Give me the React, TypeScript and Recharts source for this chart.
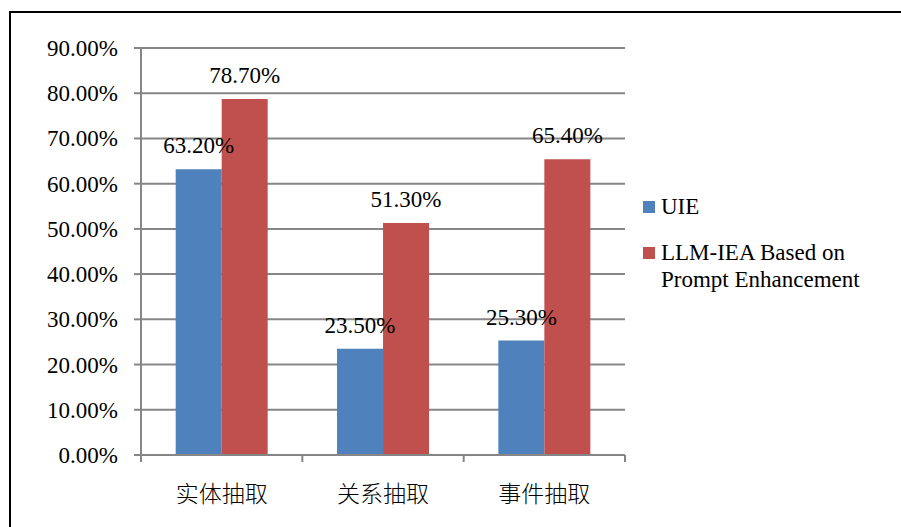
import React from "react";
import { BarChart, Bar, XAxis, YAxis, CartesianGrid, LabelList } from "recharts";

const categories = ["实体抽取", "关系抽取", "事件抽取"];
const uieValues = [0.632, 0.235, 0.253];
const llmValues = [0.787, 0.513, 0.654];
const yTicks = [0, 0.1, 0.2, 0.3, 0.4, 0.5, 0.6, 0.7, 0.8, 0.9];
const seriesNames = ["UIE", "LLM-IEA Based on Prompt Enhancement"];
const seriesColors = ["#4F81BD", "#C0504D"];
const legendLines = [["UIE"], ["LLM-IEA Based on", "Prompt Enhancement"]];

const data = categories.map((c, i) => ({ name: c, uie: uieValues[i], llm: llmValues[i] }));

const W = 901;
const H = 527;
const M = { top: 48, right: 276, bottom: 0, left: 0 };
const Y_W = 141;
const X_H = 72;
const plotW = W - M.left - M.right - Y_W;
const catW = plotW / categories.length;
const GRAY = "#868686";
const SERIF = "Liberation Serif, Times New Roman, serif";
const CJK = "Noto Sans CJK SC, sans-serif";
const FS = 23;

const pct = (v: number) => (v * 100).toFixed(2) + "%";

const CatTick = (props: any) => {
  const { x, y, payload, index } = props;
  const left = x - catW / 2;
  return (
    <g>
      <line x1={left} x2={left} y1={y} y2={y + 7} stroke={GRAY} strokeWidth={2} />
      {index === categories.length - 1 && (
        <line x1={x + catW / 2} x2={x + catW / 2} y1={y} y2={y + 7} stroke={GRAY} strokeWidth={2} />
      )}
      <text x={x} y={y + 47} textAnchor="middle" style={{ fontFamily: CJK }} fontSize={FS} fill="#000" fontWeight={300}>
        {payload.value}
      </text>
    </g>
  );
};

const ValTick = (props: any) => {
  const { x, y, payload } = props;
  return (
    <text x={x} y={y + 8} textAnchor="end" style={{ fontFamily: SERIF }} fontSize={FS} fill="#000">
      {pct(payload.value)}
    </text>
  );
};

const BarLabel = (props: any) => {
  const { x, y, width, value } = props;
  return (
    <text x={x + width / 2} y={y - 16} textAnchor="middle" style={{ fontFamily: SERIF }} fontSize={FS} fill="#000">
      {pct(value)}
    </text>
  );
};

export default function App() {
  return (
    <div
      style={{
        position: "fixed",
        left: 0,
        top: 0,
        width: W,
        height: H,
        overflow: "hidden",
        background: "#fff",
        fontFamily: SERIF,
      }}
    >
      <div
        style={{
          position: "absolute",
          left: 9,
          top: 11,
          width: 1000,
          height: 1000,
          border: "2px solid #000",
          boxSizing: "border-box",
        }}
      />
      <div style={{ position: "absolute", left: 0, top: 0 }}>
        <BarChart width={W} height={H} data={data} margin={M} barGap={0} barCategoryGap="21.5%">
          <CartesianGrid vertical={false} stroke={GRAY} strokeWidth={2} />
          <XAxis
            dataKey="name"
            height={X_H}
            axisLine={{ stroke: GRAY, strokeWidth: 2 }}
            tickLine={false}
            tickSize={0}
            tickMargin={0}
            tick={<CatTick />}
            interval={0}
          />
          <YAxis
            width={Y_W}
            domain={[0, 0.9]}
            ticks={yTicks}
            interval={0}
            axisLine={{ stroke: GRAY, strokeWidth: 2 }}
            tickLine={{ stroke: GRAY, strokeWidth: 2 }}
            tickSize={7}
            tickMargin={16}
            tick={<ValTick />}
          />
          <Bar dataKey="uie" name={seriesNames[0]} fill={seriesColors[0]} isAnimationActive={false}>
            <LabelList dataKey="uie" content={<BarLabel />} />
          </Bar>
          <Bar dataKey="llm" name={seriesNames[1]} fill={seriesColors[1]} isAnimationActive={false}>
            <LabelList dataKey="llm" content={<BarLabel />} />
          </Bar>
        </BarChart>
      </div>
      <div
        style={{
          position: "absolute",
          left: 643,
          top: 193,
          width: 250,
          fontFamily: SERIF,
          fontSize: FS,
          color: "#000",
          lineHeight: "27px",
        }}
      >
        {seriesNames.map((n, i) => (
          <div key={n} style={{ display: "flex", alignItems: "flex-start", marginBottom: i === 0 ? 19 : 0 }}>
            <span style={{ width: 12, height: 12, background: seriesColors[i], marginTop: 8, marginRight: 6, flex: "none" }} />
            <span>
              {legendLines[i].map((l) => (
                <div key={l}>{l}</div>
              ))}
            </span>
          </div>
        ))}
      </div>
    </div>
  );
}
